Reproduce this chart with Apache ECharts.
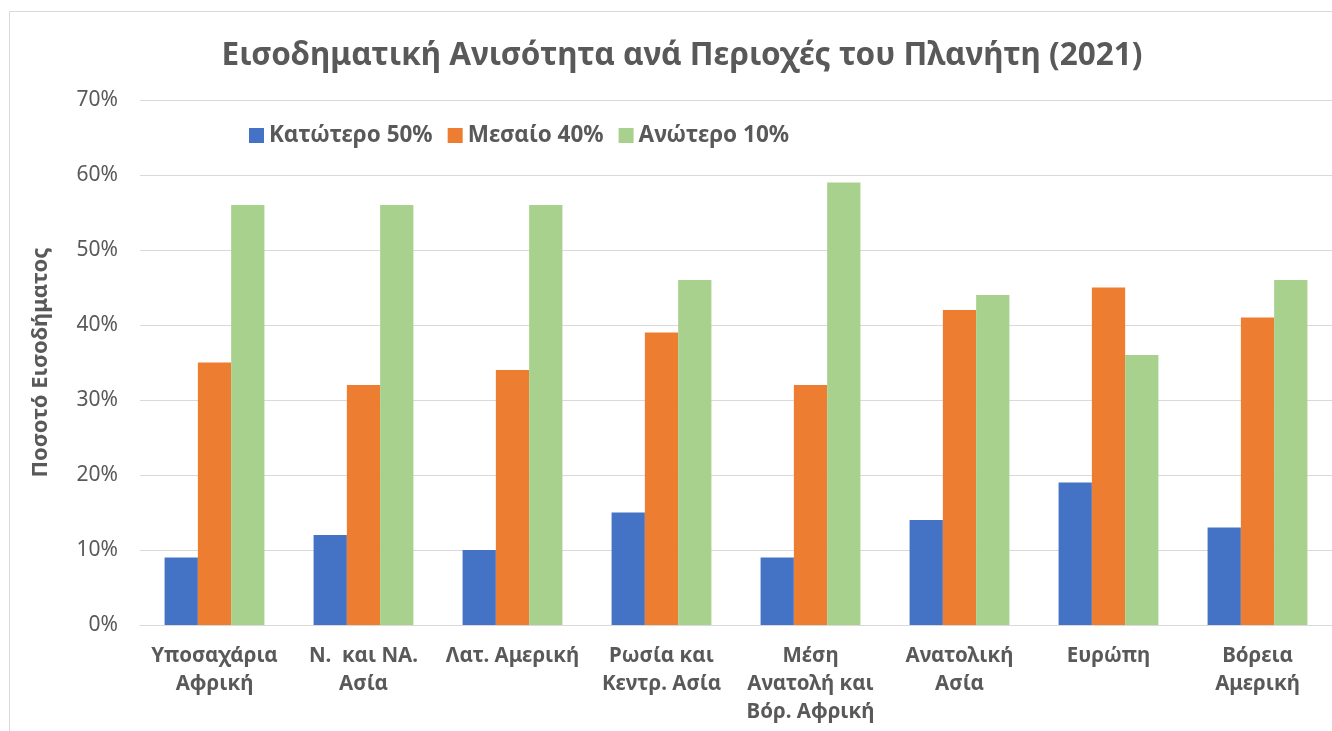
<!DOCTYPE html>
<html>
<head>
<meta charset="utf-8">
<script src="https://cdn.jsdelivr.net/npm/echarts@6/dist/echarts.min.js"></script>
<style>
  html, body { margin: 0; padding: 0; background: #fff; }
  #chart { width: 1332px; height: 731px; }
</style>
</head>
<body>
<div id="chart"></div>
<script>
// περιοχές
const regions = [
  'Υποσαχάρια\nΑφρική',
  'Ν.  και ΝΑ.\nΑσία',
  'Λατ. Αμερική',
  'Ρωσία και\nΚεντρ. Ασία',
  'Μέση\nΑνατολή και\nΒόρ. Αφρική',
  'Ανατολική\nΑσία',
  'Ευρώπη',
  'Βόρεια\nΑμερική'
];
const seriesNames = ['Κατώτερο 50%', 'Μεσαίο 40%', 'Ανώτερο 10%'];
const bottom50 = [9, 12, 10, 15, 9, 14, 19, 13];
const middle40 = [35, 32, 34, 39, 32, 42, 45, 41];
const top10 = [56, 56, 56, 46, 59, 44, 36, 46];
const colors = ['#4472C4', '#ED7D31', '#A9D18E'];

const font = '"Noto Sans", "Open Sans", sans-serif';
const gray = '#595959';

const myChart = echarts.init(document.getElementById('chart'));

const option = {
  color: colors,
  textStyle: { fontFamily: font },
  title: {
    text: 'Εισοδηματική Ανισότητα ανά Περιοχές του Πλανήτη (2021)',
    left: 677,
    textAlign: 'center',
    top: 35,
    textStyle: { fontSize: 31.5, fontWeight: 'bold', color: gray, fontFamily: font }
  },
  legend: {
    left: 244,
    top: 119,
    itemWidth: 15,
    itemHeight: 15,
    itemGap: 15,
    icon: 'rect',
    textStyle: { fontSize: 22.5, fontWeight: 'bold', color: gray, fontFamily: font },
    data: seriesNames
  },
  graphic: [{
    type: 'rect',
    shape: { x: 9.5, y: 11.5, width: 1400, height: 800 },
    style: { fill: null, stroke: '#d9d9d9', lineWidth: 1 },
    silent: true
  }],
  grid: { left: 140, top: 100, width: 1194, height: 525 },
  xAxis: {
    type: 'category',
    data: regions,
    axisLine: { lineStyle: { color: '#d9d9d9', width: 1 } },
    axisTick: { show: false },
    axisLabel: {
      interval: 0,
      margin: 17,
      fontSize: 20.5,
      fontWeight: 'bold',
      color: gray,
      lineHeight: 28,
      fontFamily: font
    }
  },
  yAxis: {
    type: 'value',
    min: 0,
    max: 70,
    interval: 10,
    name: 'Ποσοτό Εισοδήματος',
    nameLocation: 'middle',
    nameGap: 88,
    nameTextStyle: { fontSize: 22, fontWeight: 'bold', color: gray, fontFamily: font },
    axisLine: { show: false },
    axisTick: { show: false },
    axisLabel: {
      formatter: '{value}%',
      fontSize: 21,
      color: gray,
      margin: 22,
      fontFamily: font
    },
    splitLine: { lineStyle: { color: '#d9d9d9', width: 1 } }
  },
  series: [
    { name: seriesNames[0], type: 'bar', data: bottom50, barGap: '0%', barCategoryGap: '33%' },
    { name: seriesNames[1], type: 'bar', data: middle40, barGap: '0%', barCategoryGap: '33%' },
    { name: seriesNames[2], type: 'bar', data: top10, barGap: '0%', barCategoryGap: '33%' }
  ]
};

myChart.setOption(option);
</script>
</body>
</html>
